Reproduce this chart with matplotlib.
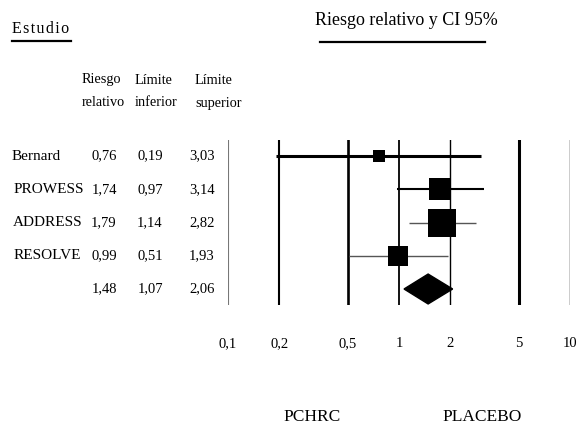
import numpy as np
import matplotlib
matplotlib.use('Agg')
import matplotlib.pyplot as plt
from matplotlib.transforms import blended_transform_factory

plt.rcParams['font.family'] = ['Liberation Serif', 'DejaVu Serif']

# data
studies = ['Bernard', 'PROWESS', 'ADDRESS', 'RESOLVE', '']
rr = [0.76, 1.74, 1.79, 0.99, 1.48]
lower = [0.19, 0.97, 1.14, 0.51, 1.07]
upper = [3.03, 3.14, 2.82, 1.93, 2.06]
rr_txt = ['0,76', '1,74', '1,79', '0,99', '1,48']
lo_txt = ['0,19', '0,97', '1,14', '0,51', '1,07']
up_txt = ['3,03', '3,14', '2,82', '1,93', '2,06']
ticks = [0.1, 0.2, 0.5, 1, 2, 5, 10]
tick_labels = ['0,1', '0,2', '0,5', '1', '2', '5', '10']

# styles
box_px = [12, 22, 28, 20]
ci_lw = [2.2, 1.5, 1.0, 1.0]
ci_col = ['black', 'black', '#555555', '#555555']
vline_lw = [0.8, 1.5, 1.9, 1.3, 1.0, 2.2, 1.0]
vline_col = ['#777777', 'black', 'black', 'black', 'black', 'black', 'black']

W, H = 579, 425
fig = plt.figure(figsize=(W / 100, H / 100), dpi=100)
fig.patch.set_facecolor('white')


def fx(x):
    return x / W


def fy(y):
    return 1 - y / H


# forest area: x 0.1..10 -> px 228..570 ; rows lines px 140..305
top, bot = 140, 305
ax = fig.add_axes([fx(228), fy(bot), (570 - 228) / W, (bot - top) / H])
ax.set_xscale('log')
ax.set_xlim(0.1, 10)
row_h = 33.25
y0 = (156 - top) / row_h
ax.set_ylim((bot - top) / row_h - y0, -y0)
for s in ax.spines.values():
    s.set_visible(False)
ax.set_yticks([])
ax.set_xticks(ticks)
ax.set_xticklabels(tick_labels, fontsize=10.5)
ax.xaxis.set_minor_locator(matplotlib.ticker.NullLocator())
ax.tick_params(axis='x', length=0, pad=23)

for t, lw, c in zip(ticks, vline_lw, vline_col):
    ax.axvline(t, color=c, lw=lw, zorder=1)

for i in range(4):
    ax.plot([lower[i], upper[i]], [i, i], color=ci_col[i], lw=ci_lw[i],
            solid_capstyle='butt', zorder=2)
    ax.plot(rr[i], i, marker='s', color='black', markersize=box_px[i] * 0.72,
            markeredgewidth=0, zorder=3)

# pooled diamond
i = 4
hh = 0.45
ax.fill([lower[i], rr[i], upper[i], rr[i]], [i, i - hh, i, i + hh],
        color='black', zorder=3)

# left table
tr = blended_transform_factory(fig.transFigure, ax.transData)
name_x = [12, 14, 13, 14, 14]
for i in range(5):
    ax.text(fx(name_x[i]), i, studies[i], transform=tr, fontsize=11,
            ha='left', va='center')
    ax.text(fx(104), i, rr_txt[i], transform=tr, fontsize=10.5,
            ha='center', va='center')
    ax.text(fx(150), i, lo_txt[i], transform=tr, fontsize=10.5,
            ha='center', va='center')
    ax.text(fx(202), i, up_txt[i], transform=tr, fontsize=10.5,
            ha='center', va='center')

# headers
hdr = dict(fontsize=10.3, ha='left', va='center')
fig.text(fx(82), fy(80), 'Riesgo', **hdr)
fig.text(fx(82), fy(103), 'relativo', **hdr)
fig.text(fx(135), fy(80), 'Límite', **hdr)
fig.text(fx(135), fy(103), 'inferior', **hdr)
fig.text(fx(195), fy(80), 'Límite', **hdr)
fig.text(fx(195), fy(103), 'superior', **hdr)

fig.text(fx(12), fy(33), 'E\u200as\u200at\u200au\u200ad\u200ai\u200ao',
         fontsize=11.5, ha='left', va='baseline')
fig.add_artist(plt.Line2D([fx(12), fx(71)], [fy(41), fy(41)], color='black',
                          lw=1.6, transform=fig.transFigure))

fig.text(fx(406), fy(25), 'Riesgo relativo y CI 95%', fontsize=13,
         ha='center', va='baseline')
fig.add_artist(plt.Line2D([fx(320), fx(485)], [fy(42), fy(42)], color='black',
                          lw=1.6, transform=fig.transFigure))

fig.text(fx(312), fy(417), 'PCHRC', fontsize=12.5, ha='center', va='center')
fig.text(fx(482), fy(417), 'PLACEBO', fontsize=12.5, ha='center', va='center')

fig.savefig('out.png', dpi=100, facecolor='white')
